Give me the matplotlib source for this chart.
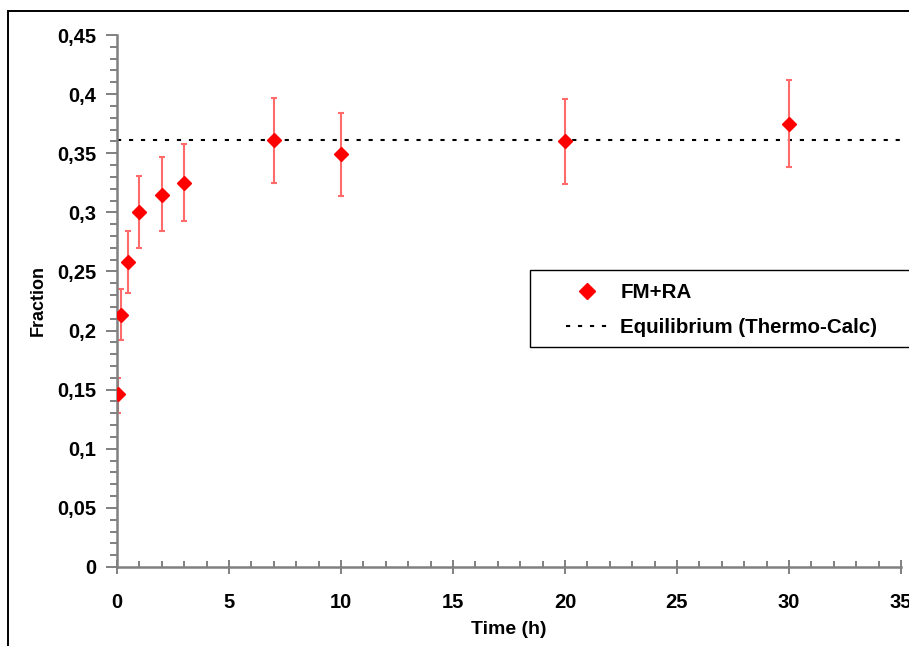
import matplotlib.pyplot as plt
from matplotlib.ticker import MultipleLocator, FuncFormatter
from matplotlib.patches import Rectangle
from matplotlib.lines import Line2D

plt.rcParams.update({"font.family": "Liberation Sans", "font.weight": "bold"})

# measured fraction vs annealing time
time_h = [0.05, 0.17, 0.5, 1, 2, 3, 7, 10, 20, 30]
fraction = [0.146, 0.213, 0.258, 0.300, 0.315, 0.325, 0.361, 0.349, 0.360, 0.375]
err_hi = [0.160, 0.235, 0.284, 0.331, 0.347, 0.358, 0.397, 0.384, 0.396, 0.412]
err_lo = [0.130, 0.192, 0.232, 0.270, 0.284, 0.293, 0.325, 0.314, 0.324, 0.338]
equilibrium = 0.361
x_range = [0, 35]

RED = "#FF0000"
ERR = "#FF6A6A"
GREY = "#808080"
DOTS = (0, (2, 3.75))

fig = plt.figure(figsize=(9.09, 6.46), dpi=100)
ax = fig.add_axes([117 / 909, 1 - 567 / 646, (901 - 117) / 909, (567 - 35) / 646])

# outer chart frame (cut off at right and bottom like the source)
fig.patches.append(Rectangle((8 / 909, -0.05), 1.2, 1 - 11 / 646 + 0.05,
                             transform=fig.transFigure, fill=False,
                             edgecolor="black", lw=1.4))

yerr = [[f - lo for f, lo in zip(fraction, err_lo)],
        [hi - f for f, hi in zip(fraction, err_hi)]]
ax.errorbar(time_h, fraction, yerr=yerr, fmt="none", ecolor=ERR, elinewidth=1.5,
            capsize=2.5, capthick=1.5, zorder=2)
ax.plot(x_range, [equilibrium, equilibrium], color="black", lw=1.5, ls=DOTS,
        zorder=1)
ax.plot(time_h, fraction, ls="none", marker="D", ms=7.2, color=RED,
        markeredgecolor=RED, zorder=3)

ax.set_xlim(0, 35)
ax.set_ylim(0, 0.45)
ax.xaxis.set_major_locator(MultipleLocator(5))
ax.xaxis.set_minor_locator(MultipleLocator(1))
ax.yaxis.set_major_locator(MultipleLocator(0.05))
ax.yaxis.set_minor_locator(MultipleLocator(0.01))
comma = FuncFormatter(lambda v, p: ("%g" % round(v, 3)).replace(".", ","))
ax.yaxis.set_major_formatter(comma)
ax.xaxis.set_major_formatter(FuncFormatter(lambda v, p: "%d" % v))

for s in ("top", "right"):
    ax.spines[s].set_visible(False)
for s in ("left", "bottom"):
    ax.spines[s].set_color(GREY)
    ax.spines[s].set_linewidth(1.8)

ax.tick_params(axis="y", which="major", direction="out", length=8, width=1.4,
               color=GREY, labelsize=14.5, pad=7)
ax.tick_params(axis="y", which="minor", direction="out", length=5, width=1.4,
               color=GREY)
ax.tick_params(axis="x", which="major", direction="inout", length=10, width=1.4,
               color=GREY, labelsize=14.5, pad=14)
ax.tick_params(axis="x", which="minor", direction="in", length=4, width=1.4,
               color=GREY)

ax.set_xlabel("Time (h)", fontsize=14, fontweight="bold", labelpad=6)
ax.set_ylabel("Fraction", fontsize=13, fontweight="bold", labelpad=7)

# legend frame runs off the right edge, as in the source
fig.patches.append(Rectangle((530 / 909, 1 - 347 / 646), 0.5, 77 / 646,
                             transform=fig.transFigure, facecolor="white",
                             edgecolor="black", lw=1.0, zorder=4))
handles = [Line2D([], [], ls="none", marker="D", ms=7.8, color=RED),
           Line2D([], [], color="black", lw=1.5, ls=DOTS)]
leg = fig.legend(handles, ["FM+RA", "Equilibrium (Thermo-Calc)"],
                 loc="center left", bbox_to_anchor=(566 / 909, 1 - 310 / 646),
                 frameon=False, handlelength=2.0, handletextpad=0.65,
                 borderpad=0, borderaxespad=0, labelspacing=0.8,
                 prop={"weight": "bold", "size": 14.8})
leg.set_zorder(5)

fig.savefig("out.png", dpi=100)
